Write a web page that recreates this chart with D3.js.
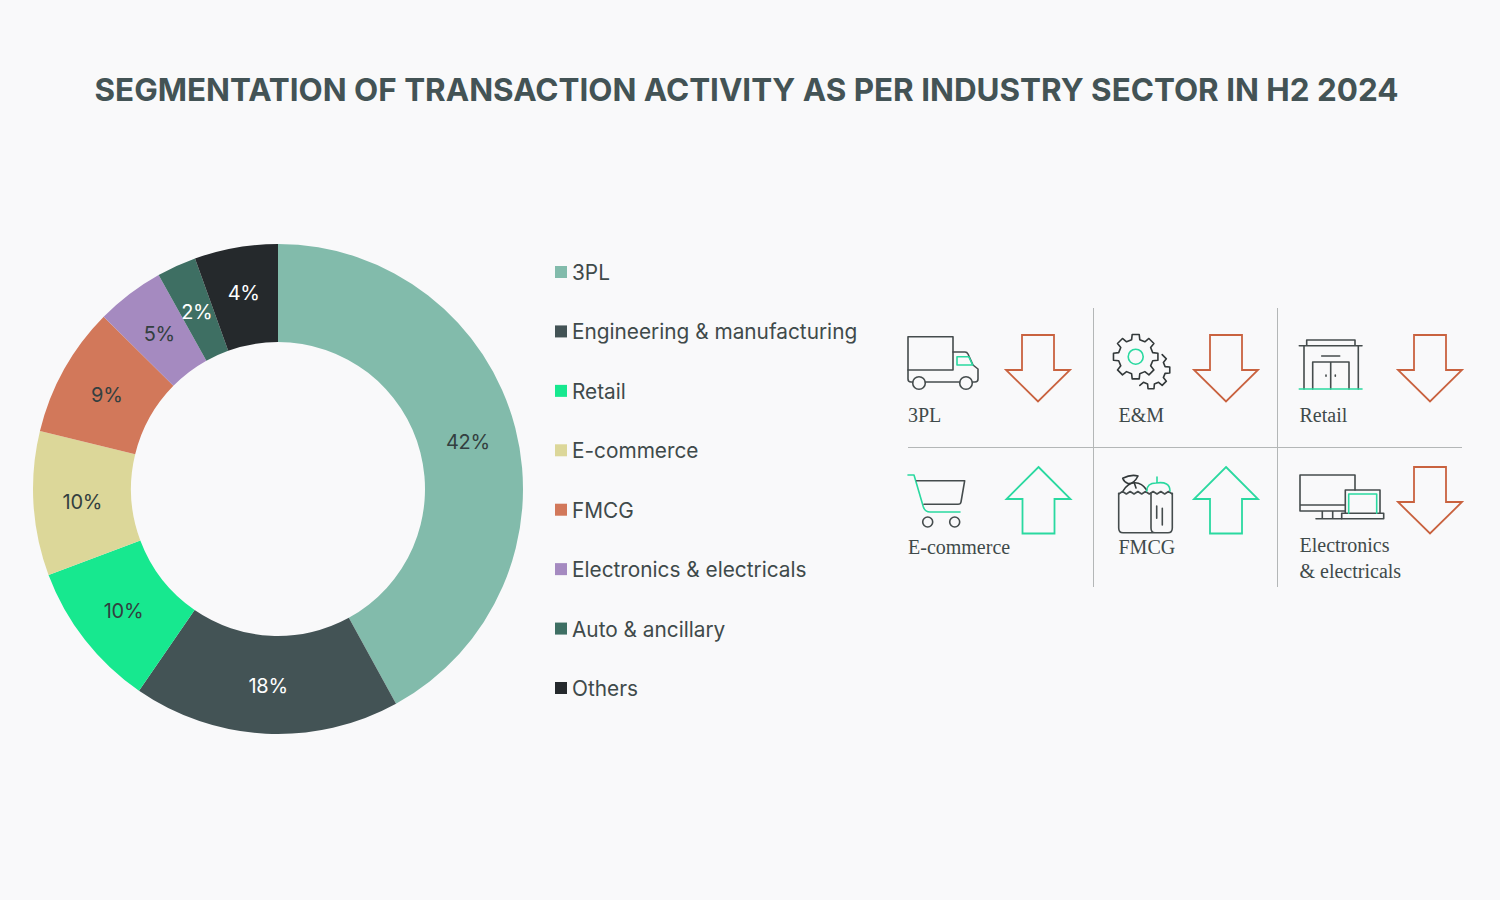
<!DOCTYPE html>
<html><head><meta charset="utf-8">
<script src="https://cdn.jsdelivr.net/npm/d3@7/dist/d3.min.js"></script>
<style>html,body{margin:0;padding:0;background:#f9f9fa}svg{display:block}</style>
</head><body><svg id="c" width="1500" height="900"></svg>
<script>
const titleText = "SEGMENTATION OF TRANSACTION ACTIVITY AS PER INDUSTRY SECTOR IN H2 2024";
const sectors = ["3PL","Engineering & manufacturing","Retail","E-commerce","FMCG","Electronics & electricals","Auto & ancillary","Others"];
const sliceShares = [42,17.6,9.7,9.5,8.6,4.5,2.6,5.5];
const printedLabels = ["42%","18%","10%","10%","9%","5%","2%","4%"];
const sliceColors = ["#82bbab","#435355","#17e88f","#dcd799","#d2785a","#a58ac0","#3e6f63","#25292c"];
const labelColors = ["#333f40","#ffffff","#333f40","#333f40","#333f40","#333f40","#ffffff","#ffffff"];
const trendNames = [["3PL"],["E&M"],["Retail"],["E-commerce"],["FMCG"],["Electronics","& electricals"]];
const trendDirections = ["down","down","down","up","up","down"];

const INK="#454c4d", GREEN="#2ad9a0", RUST="#c9623f", RULE="#b4b7b7", TEXT="#3f4a4a";
const SANS="Inter, Roboto, sans-serif", SERIF="'Liberation Serif', serif";
const svg=d3.select("#c");

svg.append("text").attr("x",746.5).attr("y",100.5).attr("text-anchor","middle")
  .attr("font-family",SANS).attr("font-weight",700).attr("font-size",31.4).attr("fill","#435355").text(titleText);

// donut
const pie=d3.pie().sort(null).value(d=>d)(sliceShares);
const arc=d3.arc().innerRadius(147).outerRadius(245);
const lab=d3.arc().innerRadius(196).outerRadius(196);
const labOuter=d3.arc().innerRadius(200).outerRadius(200);
const donut=svg.append("g").attr("transform","translate(278,489)");
donut.selectAll("path").data(pie).join("path").attr("d",arc).attr("fill",(d,i)=>sliceColors[i]);
donut.selectAll("text").data(pie).join("text")
  .attr("transform",(d,i)=>`translate(${(i===7?labOuter:lab).centroid(d)})`).attr("dy","0.42em").attr("text-anchor","middle")
  .attr("font-family",SANS).attr("font-size",20).attr("letter-spacing",-0.3).attr("fill",(d,i)=>labelColors[i]).text((d,i)=>printedLabels[i]);

// legend
const ly=d3.scalePoint().domain(sectors).range([272,688]);
const leg=svg.append("g").selectAll("g").data(sectors).join("g").attr("transform",d=>`translate(555,${ly(d)})`);
leg.append("rect").attr("x",0).attr("y",-6).attr("width",12).attr("height",12).attr("fill",(d,i)=>sliceColors[i]);
leg.append("text").attr("x",17).attr("y",8).attr("font-family",SANS).attr("font-size",20.8).attr("fill",TEXT).text(d=>d);

// grid rules
const rules=svg.append("g").attr("stroke",RULE).attr("stroke-width",1);
rules.append("line").attr("x1",1093.5).attr("x2",1093.5).attr("y1",308).attr("y2",587);
rules.append("line").attr("x1",1277.5).attr("x2",1277.5).attr("y1",308).attr("y2",587);
rules.append("line").attr("x1",908).attr("x2",1462).attr("y1",447.5).attr("y2",447.5);

// trend arrows
const arrowAnchors=[[1038,335],[1226,335],[1430,335],[1038.5,467],[1226,467],[1430,467]];
function arrowPath(dir){
  return dir==="down"
   ? "M-16,0H16V35H32L0,66.5L-32,35H-16Z"
   : "M0,0L32,32H16V66.5H-16V32H-32Z";
}
svg.append("g").selectAll("path").data(trendDirections).join("path")
  .attr("transform",(d,i)=>`translate(${arrowAnchors[i]})`).attr("d",d=>arrowPath(d))
  .attr("fill","none").attr("stroke-width",1.8).attr("stroke",d=>d==="down"?RUST:GREEN);

// names
const nameAnchors=[[908,422],[1118.5,422],[1299.5,422],[908,554],[1118.5,554],[1299.5,552]];
svg.append("g").selectAll("text").data(trendNames).join("text")
  .attr("transform",(d,i)=>`translate(${nameAnchors[i]})`)
  .attr("font-family",SERIF).attr("font-size",20).attr("fill",TEXT)
  .selectAll("tspan").data(d=>d).join("tspan").attr("x",0).attr("y",(d,i)=>i*26).text(d=>d);

// icons
const icons=svg.append("g").attr("fill","none").attr("stroke-width",1.6).attr("stroke-linejoin","round").attr("stroke-linecap","round");
const p=(d,c=INK)=>icons.append("path").attr("d",d).attr("stroke",c);
const circ=(x,y,r,c=INK)=>icons.append("circle").attr("cx",x).attr("cy",y).attr("r",r).attr("stroke",c);

// truck
p("M953,370H908V336.7H953V370");
p("M953,352H965Q967,352 968,354L973,365L978,369V379Q978,382 975,382H972.5");
p("M908,370V379Q908,382 911,382H912.7M925.3,382H959.7");
circ(919,383,6.3); circ(966,383,6.3);
p("M957,356.7H968.7L972.7,365H957Z",GREEN);

// gears
function gear(cx,cy,R,r,n,a0,a1){
  const pts=[], step=2*Math.PI/n;
  for(let k=0;k<n;k++){
    const a=k*step-Math.PI/2;
    [[-.3,r],[-.2,R],[.2,R],[.3,r]].forEach(([t,q])=>{
      const b=a+t*step;
      if(a0===undefined||(b>=a0&&b<=a1)) pts.push([b,q]);
    });
  }
  pts.sort((u,v)=>u[0]-v[0]);
  return d3.line()(pts.map(([b,q])=>[cx+q*Math.cos(b),cy+q*Math.sin(b)]));
}
p(gear(1135.7,356.7,22.5,17.5,8)+"Z","#33393a");
p(gear(1151,370,19,14.5,8,-1.0,2.3),"#33393a");
circ(1135.7,356.7,7.5,GREEN);

// storefront
p("M1306.7,345.7V340H1355V345.7M1299.3,345.7H1362M1304,345.7V389M1358.3,345.7V389M1321.7,356H1339.7M1312.7,389V362H1349V389M1330.7,362V389");
p("M1326,375V376.2M1335.3,375V376.2");
p("M1299.3,389H1362",GREEN);

// cart
p("M908,475H914L923.3,506.7Q925,512 930,512H960",GREEN);
p("M916.7,480.7H964.7L961,502Q960.7,504.3 958,504.3H924");
circ(927.7,522,5); circ(954.7,522,5);

// grocery bag
const zig=d3.range(0,15).map(i=>[1118.7+i*3.83,i%2?491.5:494]);
p(d3.line()(zig));
p("M1118.7,493.3V528Q1118.7,532.7 1123,532.7H1168Q1172.3,532.7 1172.3,528V493.3M1151,493.3V528Q1151,532.7 1155,532.7");
p("M1156.7,506V518.3M1162.3,508.3V525");
p("M1123.3,490.7Q1128,482.7 1135,482.7Q1142,482.7 1146.7,490","#33393a");
p("M1122.7,478.3Q1131,474 1138,476Q1134,484 1128,483.5Q1124,482 1122.7,478.3ZM1134,482L1136,488","#33393a");
p("M1146.7,491Q1147,483 1156,483Q1170,481 1170,491M1157,477V483",GREEN);

// devices
p("M1345.3,511H1300V475H1355V490M1300,505H1345.3M1322.3,511V518.7M1332.7,511V518.7M1316,518.7H1341.7");
p("M1345.3,513.3V490H1380V513.3M1341.7,513.3H1383.7V518.7H1341.7Z");
p("M1348.7,513.3V494H1376.7V513.3",GREEN);
</script></body></html>
